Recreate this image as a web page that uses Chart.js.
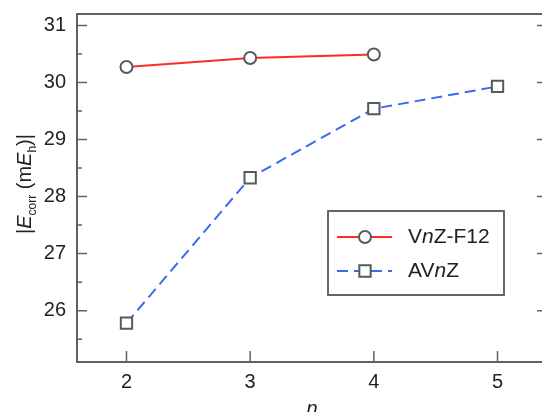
<!DOCTYPE html>
<html lang="en">
<head>
<meta charset="UTF-8">
<title>Correlation energy vs n</title>
<script src="https://cdn.jsdelivr.net/npm/chart.js"></script>
<style>
  html, body { margin: 0; padding: 0; overflow: hidden; background: #fff; }
  #wrap { width: 542px; height: 412px; overflow: hidden; }
  #corrChart { display: block; }
</style>
</head>
<body>
<!-- canvas is a little wider than the view: the right frame edge sits just past the picture's edge -->
<div id="wrap"><canvas id="corrChart" width="547" height="412"></canvas></div>
<script>
// values
const nValues = [2, 3, 4, 5];
const f12Energy = [30.27, 30.43, 30.49];
const avEnergy = [25.78, 28.33, 29.54, 29.93];
const seriesNames = ['VnZ-F12', 'AVnZ'];
const xTicks = [2, 3, 4, 5];
const yTicks = [25.5, 26, 26.5, 27, 27.5, 28, 28.5, 29, 29.5, 30, 30.5, 31];

const FONT = '"Liberation Sans Narrow", "Liberation Sans", Arial, sans-serif';
const AXIS = '#5b6363';
const TEXT = '#222';

// draws a run of text pieces (italic / subscript) starting at x
function drawParts(ctx, parts, x, y, size) {
    let cx = x;
    parts.forEach(p => {
        const fs = p.sub ? Math.round(size * 0.62) : size;
        ctx.font = (p.i ? 'italic ' : '') + fs + 'px ' + FONT;
        ctx.fillText(p.t, cx, y + (p.sub ? size * 0.25 : 0));
        cx += ctx.measureText(p.t).width;
    });
    return cx - x;
}
function partsWidth(ctx, parts, size) {
    let w = 0;
    parts.forEach(p => {
        const fs = p.sub ? Math.round(size * 0.62) : size;
        ctx.font = (p.i ? 'italic ' : '') + fs + 'px ' + FONT;
        w += ctx.measureText(p.t).width;
    });
    return w;
}
// "VnZ" -> V, italic n, Z
function labelParts(label) {
    const bits = label.split('n');
    const out = [];
    bits.forEach((b, i) => {
        if (i > 0) out.push({ t: 'n', i: true });
        if (b) out.push({ t: b });
    });
    return out;
}
function noPad(s) {
    s.paddingTop = 0; s.paddingBottom = 0; s.paddingLeft = 0; s.paddingRight = 0;
}

const framePlugin = {
    id: 'frame',
    beforeDatasetsDraw(chart) {
        const { ctx, chartArea: a, scales } = chart;
        ctx.save();
        ctx.strokeStyle = AXIS;
        ctx.lineWidth = 2;
        ctx.strokeRect(a.left, a.top, a.right - a.left, a.bottom - a.top);
        ctx.lineWidth = 1.5;
        ctx.beginPath();
        yTicks.forEach(v => {
            const py = scales.y.getPixelForValue(v);
            const len = Number.isInteger(v) ? 10 : 5;
            ctx.moveTo(a.left, py); ctx.lineTo(a.left + len, py);
            ctx.moveTo(a.right, py); ctx.lineTo(a.right - len, py);
        });
        xTicks.forEach(v => {
            const px = scales.x.getPixelForValue(v);
            ctx.moveTo(px, a.bottom); ctx.lineTo(px, a.bottom - 11);
        });
        ctx.stroke();

        // axis titles
        ctx.fillStyle = TEXT;
        ctx.textBaseline = 'alphabetic';
        ctx.font = 'italic 20px ' + FONT;
        ctx.textAlign = 'center';
        ctx.fillText('n', (a.left + a.right) / 2, 415);
        ctx.textAlign = 'left';
        const yTitle = [{ t: '|' }, { t: 'E', i: true }, { t: 'corr', sub: true }, { t: ' (m' },
            { t: 'E', i: true }, { t: 'h', sub: true }, { t: ')|' }];
        ctx.translate(31, (a.top + a.bottom) / 2 - 4);
        ctx.rotate(-Math.PI / 2);
        const w = partsWidth(ctx, yTitle, 20);
        drawParts(ctx, yTitle, -w / 2, 0, 20);
        ctx.restore();
    }
};

const legendPlugin = {
    id: 'boxLegend',
    afterDatasetsDraw(chart, args, opts) {
        const ctx = chart.ctx;
        ctx.save();
        ctx.fillStyle = '#fff';
        ctx.fillRect(opts.x, opts.y, opts.w, opts.h);
        ctx.strokeStyle = '#666';
        ctx.lineWidth = 2;
        ctx.strokeRect(opts.x, opts.y, opts.w, opts.h);
        chart.data.datasets.forEach((ds, i) => {
            const ry = opts.y + 26 + i * 34;
            ctx.strokeStyle = ds.borderColor;
            ctx.lineWidth = ds.borderWidth;
            ctx.setLineDash(ds.borderDash || []);
            ctx.beginPath();
            ctx.moveTo(opts.x + 9, ry); ctx.lineTo(opts.x + 64, ry);
            ctx.stroke();
            ctx.setLineDash([]);
            ctx.fillStyle = ds.pointBackgroundColor;
            ctx.strokeStyle = ds.pointBorderColor;
            ctx.lineWidth = ds.pointBorderWidth;
            const mx = opts.x + 37;
            ctx.beginPath();
            if (ds.pointStyle === 'rect') {
                const s = ds.pointRadius * Math.SQRT1_2;
                ctx.rect(mx - s, ry - s, 2 * s, 2 * s);
            } else {
                ctx.arc(mx, ry, ds.pointRadius, 0, Math.PI * 2);
            }
            ctx.fill(); ctx.stroke();
            ctx.fillStyle = TEXT;
            ctx.textBaseline = 'middle';
            ctx.textAlign = 'left';
            drawParts(ctx, labelParts(ds.label), opts.x + 80, ry, 21);
        });
        ctx.restore();
    }
};

new Chart(document.getElementById('corrChart'), {
    type: 'line',
    data: {
        datasets: [{
            label: seriesNames[0],
            data: f12Energy.map((v, i) => ({ x: nValues[i], y: v })),
            borderColor: '#ff2a2a',
            borderWidth: 2,
            pointStyle: 'circle',
            pointRadius: 6,
            pointBorderWidth: 2,
            pointBorderColor: '#555a5a',
            pointBackgroundColor: '#fff'
        }, {
            label: seriesNames[1],
            data: avEnergy.map((v, i) => ({ x: nValues[i], y: v })),
            borderColor: '#3a6af2',
            borderWidth: 2,
            borderDash: [11, 6],
            pointStyle: 'rect',
            pointRadius: 8,
            pointBorderWidth: 2,
            pointBorderColor: '#555a5a',
            pointBackgroundColor: '#fff'
        }]
    },
    options: {
        responsive: false,
        animation: false,
        layout: { autoPadding: false, padding: { top: 14, right: 0, left: 0, bottom: 0 } },
        plugins: {
            legend: { display: false },
            tooltip: { enabled: false },
            boxLegend: { x: 328, y: 211, w: 176, h: 84 }
        },
        scales: {
            x: {
                type: 'linear',
                min: 1.6,
                max: 5.4,
                afterBuildTicks: s => { s.ticks = xTicks.map(v => ({ value: v })); },
                afterFit: s => { s.height = 50; noPad(s); },
                grid: { display: false, drawTicks: false },
                border: { display: false },
                ticks: { color: TEXT, font: { family: FONT, size: 20 }, padding: 8, maxRotation: 0 }
            },
            y: {
                min: 25.1,
                max: 31.2,
                afterBuildTicks: s => { s.ticks = yTicks.map(v => ({ value: v })); },
                afterFit: s => { s.width = 77; noPad(s); },
                grid: { display: false, drawTicks: false },
                border: { display: false },
                ticks: {
                    color: TEXT, font: { family: FONT, size: 20 }, padding: 11, autoSkip: false,
                    callback: v => Number.isInteger(v) ? v : ''
                }
            }
        }
    },
    plugins: [framePlugin, legendPlugin]
});
</script>
</body>
</html>
